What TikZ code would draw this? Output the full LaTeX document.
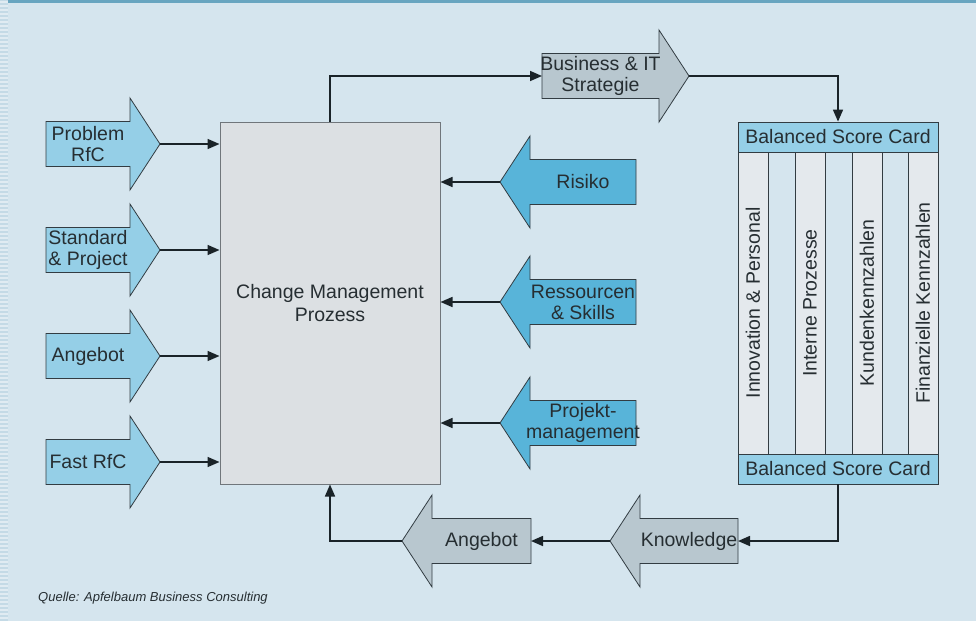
\documentclass[tikz,border=0pt]{standalone}
\usepackage{fontspec}
\setmainfont{Liberation Sans}
\usetikzlibrary{arrows.meta}

\definecolor{hintergrund}{RGB}{213,229,238}
\definecolor{streifen}{RGB}{104,165,192}
\definecolor{randstreifen}{RGB}{196,218,230}
\definecolor{randlinie}{RGB}{224,235,242}
\definecolor{hellblau}{RGB}{149,207,231}
\definecolor{mittelblau}{RGB}{88,180,217}
\definecolor{pfeilgrau}{RGB}{184,199,207}
\definecolor{kastengrau}{RGB}{220,224,227}
\definecolor{spaltengrau}{RGB}{228,233,237}
\definecolor{linie}{RGB}{26,35,40}
\definecolor{rand}{RGB}{50,60,66}
\definecolor{schrift}{RGB}{38,46,50}

% #1 Name, #2 x, #3 y, #4 Schaftbreite, #5 Richtung (1 rechts, -1 links), #6 Farbe, #7 Text
\newcommand{\pfeil}[7]{%
    \draw[pfeilrand,fill=#6] ({#2-#5*#4/2},{#3-22.5}) -- ++({#5*#4},0) -- ++(0,-23.5)
        -- ({#2+#5*(#4/2+30)},#3) coordinate (#1-spitze)
        -- ({#2+#5*#4/2},{#3+46}) -- ++(0,-23.5) -- ({#2-#5*#4/2},{#3+22.5}) -- cycle;
    \coordinate (#1-schaft) at ({#2-#5*#4/2},#3);
    \node[pfeiltext] (#1) at (#2,#3) {#7};
}

\begin{document}
\begin{tikzpicture}[
            x=1pt, y=-1pt,
            verbinder/.style={-{Triangle[length=12pt,width=10pt]}, line width=1.6pt, draw=linie},
            pfeilrand/.style={draw=rand, line width=0.8pt},
            pfeiltext/.style={inner sep=0pt, align=center, text=schrift, font=\fontsize{19.5}{21}\selectfont},
            prozess/.style={draw=rand!70, line width=1pt, fill=kastengrau, minimum width=220pt, minimum height=362pt,
                align=center, text=schrift, font=\fontsize{19.5}{23}\selectfont},
            bsckopf/.style={draw=rand, line width=0.8pt, fill=hellblau, minimum width=200pt, minimum height=30pt,
                inner sep=0pt, text=schrift, font=\fontsize{19.5}{21}\selectfont},
            spalte/.style={draw=rand, line width=0.8pt, fill=spaltengrau, rotate=90, minimum width=302pt,
                minimum height=30pt, inner sep=0pt, text=schrift, font=\fontsize{19.5}{21}\selectfont},
            quelle/.style={anchor=west, inner sep=0pt, text=schrift, font=\fontsize{13}{15}\selectfont\itshape}
        ]
            \useasboundingbox (0,0) rectangle (976,621);
            \fill[hintergrund] (0,0) rectangle (976,621);
            \fill[randstreifen] (0,0) rectangle (8,621);
            \foreach \y in {2,6,...,618} {
                \draw[randlinie, line width=1.5pt] (0,\y) -- (8,\y);
            }
            \fill[streifen] (8,0) rectangle (976,3);

            \node[prozess] (cmp) at (330,303) {Change Management\\Prozess};

            % Eingaenge links
            \foreach \name/\y/\beschriftung in {problem/144/{Problem\\RfC}, standard/250/{Standard\\\& Project},
                    angebotlinks/356/Angebot, fast/462/Fast RfC} {
                \pfeil{\name}{88}{\y}{84}{1}{hellblau}{\beschriftung}
                \draw[verbinder] (\name-spitze) -- (\name-spitze -| cmp.west);
            }

            % Eingaenge rechts
            \foreach \name/\y/\beschriftung in {risiko/182/Risiko, ressourcen/302/{Ressourcen\\\& Skills},
                    projekt/423/{Projekt-\\management}} {
                \pfeil{\name}{583}{\y}{106}{-1}{mittelblau}{\beschriftung}
                \draw[verbinder] (\name-spitze) -- (\name-spitze -| cmp.east);
            }

            % Balanced Score Card
            \foreach \x/\beschriftung [count=\i] in {753/Innovation \& Personal, 810/Interne Prozesse,
                    867/Kundenkennzahlen, 923/Finanzielle Kennzahlen} {
                \node[spalte] (spalte\i) at (\x,303) {\beschriftung};
            }
            \node[bsckopf] (bscoben) at (838,137) {Balanced Score Card};
            \node[bsckopf] (bscunten) at (838,469) {Balanced Score Card};

            % Kreislauf
            \pfeil{strategie}{600.5}{76}{117}{1}{pfeilgrau}{Business \& IT\\Strategie}
            \pfeil{knowledge}{689}{541}{98}{-1}{pfeilgrau}{Knowledge}
            \pfeil{angebot}{481.5}{541}{99}{-1}{pfeilgrau}{Angebot}

            \draw[verbinder] (cmp.north) |- (strategie-schaft);
            \draw[verbinder] (strategie-spitze) -| (bscoben.north);
            \draw[verbinder] (bscunten.south) |- (knowledge-schaft);
            \draw[verbinder] (knowledge-spitze) -- (angebot-schaft);
            \draw[verbinder] (angebot-spitze) -| (cmp.south);

            \node[quelle] (quellenangabe) at (38,598) {Quelle: Apfelbaum Business Consulting};
        \end{tikzpicture}
\end{document}
